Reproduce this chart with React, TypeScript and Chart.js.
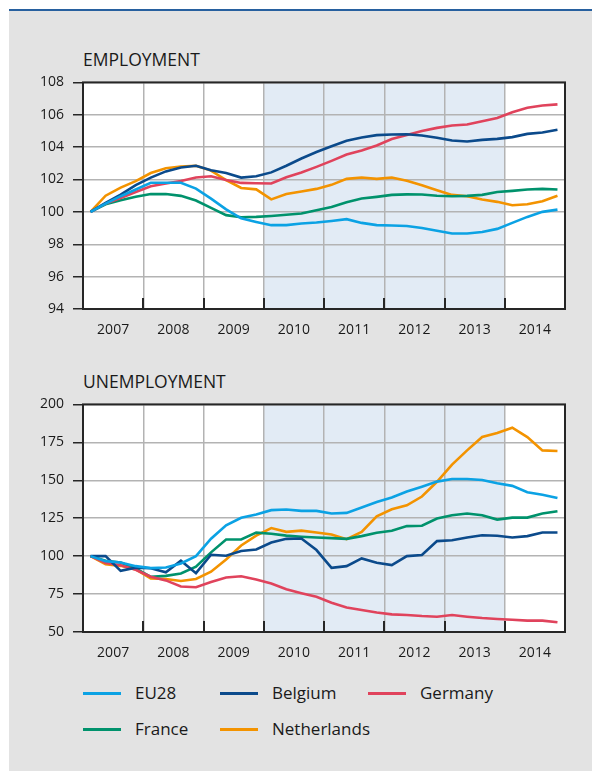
import { useEffect, useRef } from 'react';
import { Chart, registerables } from 'chart.js';

Chart.register(...registerables);

const FONT = "'Open Sans', sans-serif";

// ---- categories / labels ----
const yearLabels = ['2007', '2008', '2009', '2010', '2011', '2012', '2013', '2014'];
const seriesNames = ['EU28', 'Belgium', 'Germany', 'France', 'Netherlands'];
const seriesColors = ['#0ba2e4', '#0b4a8b', '#e0435c', '#00926c', '#f39300'];
const shadedYears = ['2010', '2013'];

// ---- EMPLOYMENT (index, quarterly 2007Q1..2014Q4) ----
const empEU28 = [100, 100.51, 100.97, 101.38, 101.8, 101.8, 101.8, 101.44, 100.82, 100.16, 99.6, 99.38, 99.18, 99.18, 99.28, 99.34, 99.44, 99.55, 99.32, 99.18, 99.16, 99.13, 99.01, 98.83, 98.66, 98.66, 98.76, 98.95, 99.32, 99.69, 100.0, 100.14];
const empBelgium = [100, 100.56, 101.07, 101.65, 102.12, 102.5, 102.74, 102.85, 102.57, 102.4, 102.12, 102.2, 102.44, 102.85, 103.3, 103.7, 104.06, 104.4, 104.6, 104.74, 104.78, 104.8, 104.72, 104.58, 104.41, 104.35, 104.45, 104.51, 104.62, 104.82, 104.9, 105.07];
const empGermany = [100, 100.51, 100.86, 101.23, 101.58, 101.75, 101.91, 102.12, 102.2, 101.97, 101.79, 101.77, 101.75, 102.14, 102.43, 102.78, 103.15, 103.54, 103.8, 104.1, 104.5, 104.75, 105.0, 105.19, 105.34, 105.4, 105.6, 105.8, 106.16, 106.43, 106.57, 106.64];
const empFrance = [100, 100.47, 100.72, 100.93, 101.1, 101.1, 100.99, 100.7, 100.25, 99.8, 99.67, 99.69, 99.75, 99.82, 99.9, 100.1, 100.3, 100.6, 100.83, 100.93, 101.05, 101.08, 101.07, 101.0, 100.97, 100.99, 101.05, 101.23, 101.3, 101.38, 101.42, 101.38];
const empNetherlands = [100, 101.0, 101.5, 101.9, 102.4, 102.7, 102.8, 102.85, 102.55, 101.97, 101.48, 101.39, 100.77, 101.1, 101.26, 101.42, 101.67, 102.04, 102.12, 102.04, 102.12, 101.92, 101.65, 101.34, 101.05, 100.97, 100.76, 100.62, 100.41, 100.47, 100.66, 101.0];

// ---- UNEMPLOYMENT ----
const unEU28 = [100, 96.7, 95.8, 93.4, 92.1, 92.5, 95.2, 100, 111.5, 120.3, 125.3, 127.4, 130.3, 130.7, 129.8, 129.8, 128.1, 128.5, 132, 135.7, 138.6, 142.6, 145.8, 149.1, 150.8, 150.8, 150.2, 148, 146.3, 142.1, 140.4, 138.3];
const unBelgium = [100, 100, 90.3, 92.4, 92, 89.3, 97, 88.8, 100.9, 100.3, 103.4, 104.4, 109, 111.4, 111.6, 104, 92.3, 93.4, 98.5, 95.6, 94.1, 100, 100.7, 109.9, 110.5, 112.3, 113.8, 113.4, 112.3, 113.2, 115.6, 115.6];
const unGermany = [100, 95.5, 94, 91, 86.4, 84, 80, 79.5, 83, 85.9, 86.7, 84.6, 82, 78.2, 75.6, 73.2, 69.3, 66.2, 64.5, 62.9, 61.6, 61.2, 60.5, 60.1, 61.2, 60.1, 59.2, 58.6, 58.1, 57.5, 57.5, 56.4];
const unFrance = [100, 96.9, 95.8, 91.9, 86.4, 87, 88.6, 93, 102.5, 111, 111, 115.5, 114.7, 113.5, 112.8, 112.3, 111.9, 111.4, 113.2, 115.4, 116.7, 119.8, 120, 124.8, 127, 128.1, 127, 124.1, 125.4, 125.4, 128.1, 129.6];
const unNetherlands = [100, 94.7, 93.6, 91.2, 85.3, 84.9, 83.6, 84.9, 89.7, 97.8, 107, 113.5, 118.5, 116, 116.8, 115.6, 114.2, 111.2, 116, 126.3, 130.9, 133.5, 139.3, 149, 160.3, 169.7, 178.5, 181.1, 184.6, 178.5, 169.7, 169.3];

const empAxis = { min: 94, max: 108, step: 2 };
const unAxis = { min: 50, max: 200, step: 25 };

const GRID = '#b3b3b3';
const DARK = '#262626';
const BAND = '#e2ebf5';

const firstYear = Number(yearLabels[0]);

function makePanelPlugin() {
  return {
    id: 'panelDeco',
    beforeDraw(chart: any) {
      const { ctx, chartArea: a, scales } = chart;
      const x = scales.x;
      ctx.save();
      ctx.fillStyle = '#ffffff';
      ctx.fillRect(a.left, a.top, a.right - a.left, a.bottom - a.top);
      const x0 = x.getPixelForValue(Number(shadedYears[0]) - firstYear);
      const x1 = x.getPixelForValue(Number(shadedYears[1]) + 1 - firstYear);
      ctx.fillStyle = BAND;
      ctx.fillRect(x0, a.top, x1 - x0, a.bottom - a.top);
      ctx.restore();
    },
    afterDraw(chart: any) {
      const { ctx, chartArea: a, scales } = chart;
      const x = scales.x;
      ctx.save();
      ctx.strokeStyle = DARK;
      ctx.lineWidth = 2;
      for (let k = 1; k < yearLabels.length; k++) {
        const px = Math.round(x.getPixelForValue(k));
        ctx.beginPath();
        ctx.moveTo(px, a.bottom);
        ctx.lineTo(px, a.bottom - 11);
        ctx.stroke();
      }
      ctx.strokeRect(a.left, a.top, a.right - a.left, a.bottom - a.top);
      ctx.restore();
    },
  };
}

function buildConfig(series: number[][], axis: { min: number; max: number; step: number }, xAxisHeight: number) {
  return {
    type: 'line' as const,
    data: {
      datasets: series.map((vals, s) => ({
        label: seriesNames[s],
        data: vals.map((v, i) => ({ x: (i + 0.5) / 4, y: v })),
        borderColor: seriesColors[s],
        backgroundColor: seriesColors[s],
        borderWidth: 2.6,
        pointRadius: 0,
        tension: 0,
        fill: false,
      })),
    },
    options: {
      animation: false as const,
      responsive: false,
      maintainAspectRatio: false,
      layout: { padding: { left: 0, right: 27, top: 7, bottom: 0 } },
      plugins: { legend: { display: false }, tooltip: { enabled: false }, title: { display: false } },
      scales: {
        x: {
          type: 'linear' as const,
          min: 0,
          max: yearLabels.length,
          afterFit: (scale: any) => {
            scale.height = xAxisHeight;
          },
          border: { display: false },
          grid: {
            color: (c: any) => (c.tick && Number.isInteger(c.tick.value) ? GRID : 'rgba(0,0,0,0)'),
            lineWidth: 1.5,
            drawTicks: false,
          },
          ticks: {
            stepSize: 0.5,
            autoSkip: false,
            maxRotation: 0,
            padding: 13,
            color: '#1a1a1a',
            font: { family: FONT, size: 14 },
            callback: (value: any) => {
              const v = Number(value);
              if (Math.abs(v % 1 - 0.5) < 1e-6) return yearLabels[Math.floor(v)];
              return '';
            },
          },
        },
        y: {
          min: axis.min,
          max: axis.max,
          afterFit: (scale: any) => {
            scale.width = 83;
          },
          border: { display: false },
          grid: {
            color: GRID,
            lineWidth: 1.5,
            drawTicks: true,
            tickLength: 10,
            tickColor: DARK,
            tickWidth: 1.5,
          },
          ticks: {
            stepSize: axis.step,
            padding: 9,
            color: '#1a1a1a',
            font: { family: FONT, size: 14 },
          },
        },
      },
    },
    plugins: [makePanelPlugin()],
  };
}

export default function App() {
  const empRef = useRef<HTMLCanvasElement | null>(null);
  const unRef = useRef<HTMLCanvasElement | null>(null);

  useEffect(() => {
    document.body.style.margin = '0';
    document.body.style.overflow = 'hidden';
    const c1 = new Chart(empRef.current as HTMLCanvasElement, buildConfig(
      [empEU28, empBelgium, empGermany, empFrance, empNetherlands], empAxis, 41) as any);
    const c2 = new Chart(unRef.current as HTMLCanvasElement, buildConfig(
      [unEU28, unBelgium, unGermany, unFrance, unNetherlands], unAxis, 40) as any);
    return () => {
      c1.destroy();
      c2.destroy();
    };
  }, []);

  const legendCols = [83, 220, 368];
  const legendRows = [693, 729];

  return (
    <div style={{ position: 'relative', width: 592, height: 771, background: '#ffffff', overflow: 'hidden', fontFamily: FONT }}>
      <div style={{ position: 'absolute', left: 9, top: 9, width: 583, height: 762, background: '#e3e3e3', borderTop: '2px solid #27609f', boxSizing: 'border-box' }} />
      <div style={{ position: 'absolute', left: 83, top: 47, fontSize: 17.5, lineHeight: '24px', color: '#1a1a1a' }}>EMPLOYMENT</div>
      <div style={{ position: 'absolute', left: 83, top: 369, fontSize: 17.5, lineHeight: '24px', color: '#1a1a1a' }}>UNEMPLOYMENT</div>
      <canvas ref={empRef} width={592} height={285} style={{ position: 'absolute', left: 0, top: 65, width: 592, height: 285 }} />
      <canvas ref={unRef} width={592} height={285} style={{ position: 'absolute', left: 0, top: 387, width: 592, height: 285 }} />
      {seriesNames.map((name, s) => {
        const col = s % 3;
        const row = Math.floor(s / 3);
        const lx = legendCols[col];
        const ly = legendRows[row];
        return (
          <div key={name}>
            <div style={{ position: 'absolute', left: lx, top: ly - 1.5, width: 38, height: 3, background: seriesColors[s] }} />
            <div style={{ position: 'absolute', left: lx + 52, top: ly - 12, fontSize: 17, lineHeight: '24px', color: '#1a1a1a', whiteSpace: 'nowrap' }}>{name}</div>
          </div>
        );
      })}
    </div>
  );
}
